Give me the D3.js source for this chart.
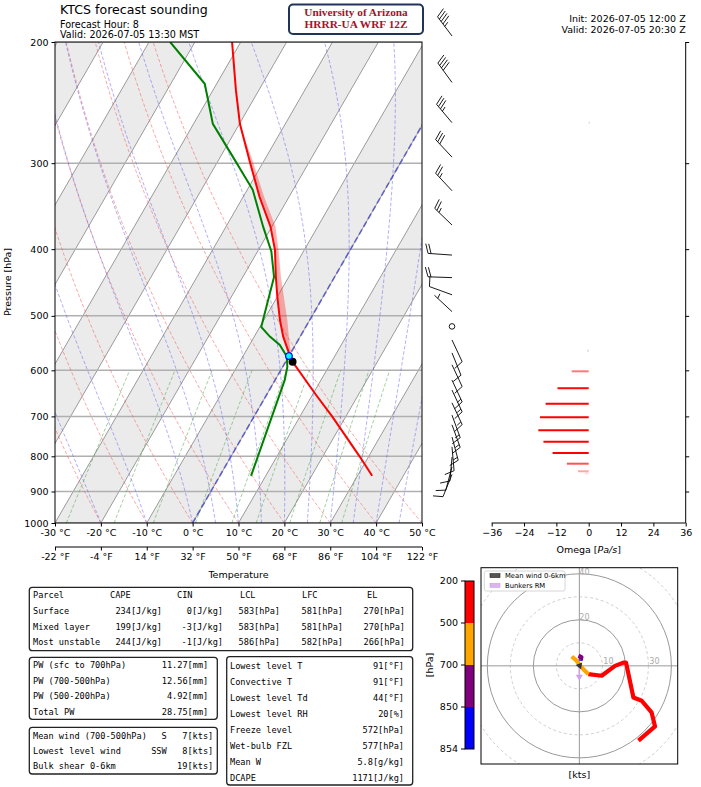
<!DOCTYPE html>
<html>
<head>
<meta charset="utf-8">
<script src="https://cdn.jsdelivr.net/npm/d3@7"></script>
<style>
  body { margin: 0; background: #fff; }
  svg { display: block; }
  text { font-family: "DejaVu Sans", sans-serif; }
</style>
</head>
<body>
<svg id="chart" width="701" height="787"></svg>
<script>

// ---- sounding values ----
const envP = [ 854, 800, 700, 650, 583, 567, 536, 507, 469, 439, 401, 371, 336, 300, 263, 235, 200 ];
const envT = [ 33.2, 28.0, 17.0, 10.6, 1.5, -0.3, -3.7, -6.5, -10.0, -12.8, -16.4, -20.3, -26.4, -32.7, -39.9, -45.0, -51.9 ];

const dewP = [ 854, 620, 593, 573, 551, 536, 519, 474, 439, 403, 371, 328, 294, 263, 230, 200 ];
const dewT = [ 6.8, 2.1, 1.0, -0.4, -3.4, -6.6, -9.7, -11.6, -13.2, -17.0, -21.9, -28.8, -37.2, -45.8, -52.6, -65.4 ];

const parcelP = [ 583, 548, 507, 439, 403, 371, 336, 300, 270 ];
const parcelT = [ 1.5, -1.5, -4.9, -11.7, -15.4, -19.2, -25.4, -32.0, -38.4 ];

const lclP = 583, lclT = 1.5;
const frzP = 572, frzT = 0.0;

const omegaP   = [ 262, 562, 602, 637, 671, 702, 733, 762, 791, 820, 841, 847 ];
const omegaVal = [ 0.4, -0.5, -6.3, -11.6, -16.0, -18.1, -18.7, -16.8, -13.4, -8.1, -4.0, -1.5 ];

const barbP   = [ 196, 229, 262, 294, 329, 369, 408, 440, 466, 493, 518, 542, 566, 589, 620, 641, 669, 697, 720, 750, 775, 802, 829, 850 ];
const barbSpd = [ 45, 40, 35, 30, 25, 25, 20, 20, 10, 5, 0, 10, 10, 10, 15, 15, 15, 15, 15, 15, 10, 10, 10, 8 ];
const barbDir = [ 323, 324, 320, 317, 317, 314, 274, 272, 290, 313, 0, 155, 158, 155, 155, 155, 155, 160, 160, 165, 175, 185, 195, 202 ];

// hodograph (u, v) in kts, per layer
const hodoRed    = [ [3.9,-3.6], [9.7,-4.3], [15.5,0], [19.1,1.4], [20.3,1.4], [23.5,-13.8], [27.1,-15.2], [31.4,-20.3], [32.9,-26.4], [25.7,-32.6] ];
const hodoOrange = [ [-3.3,4.1], [-1.2,2.2], [1.0,-0.7], [3.9,-3.6] ];
const hodoPurple = [ [0.6,2.6], [0.9,3.8], [-0.4,4.4] ];
const hodoBlue   = [ [0.5,2.2], [0.6,2.6] ];
const meanWind   = [ 1.2, 1.5 ];
const bunkersRM  = [ 0, -6.5 ];

// ticks / labels
const pTicks = [ 200, 300, 400, 500, 600, 700, 800, 900, 1000 ];
const cTicks = [ -30, -20, -10, 0, 10, 20, 30, 40, 50 ];
const fTicks = [ -22, -4, 14, 32, 50, 68, 86, 104, 122 ];
const omegaTicks = [ -36, -24, -12, 0, 12, 24, 36 ];
const ringKts = [ 10, 20, 30, 40, 50 ];
const cbLabels = [ "200", "500", "700", "850", "854" ];
const cbColors = [ "red", "orange", "purple", "blue" ];

const parcelHead = [ "Parcel", "CAPE", "CIN", "LCL", "LFC", "EL" ];
const parcelRows = [
	[ "Surface", "234[J/kg]", "0[J/kg]", "583[hPa]", "581[hPa]", "270[hPa]" ],
	[ "Mixed layer", "199[J/kg]", "-3[J/kg]", "583[hPa]", "581[hPa]", "270[hPa]" ],
	[ "Most unstable", "244[J/kg]", "-1[J/kg]", "586[hPa]", "582[hPa]", "266[hPa]" ]
];
const pwRows = [
	[ "PW (sfc to 700hPa)", "11.27[mm]" ],
	[ "PW (700-500hPa)", "12.56[mm]" ],
	[ "PW (500-200hPa)", "4.92[mm]" ],
	[ "Total PW", "28.75[mm]" ]
];
const windRows = [
	[ "Mean wind (700-500hPa)", "S", "7[kts]" ],
	[ "Lowest level wind", "SSW", "8[kts]" ],
	[ "Bulk shear 0-6km", "", "19[kts]" ]
];
const sfcRows = [
	[ "Lowest level T", "91[°F]" ],
	[ "Convective T", "91[°F]" ],
	[ "Lowest level Td", "44[°F]" ],
	[ "Lowest level RH", "20[%]" ],
	[ "Freeze level", "572[hPa]" ],
	[ "Wet-bulb FZL", "577[hPa]" ],
	[ "Mean W", "5.8[g/kg]" ],
	[ "DCAPE", "1171[J/kg]" ]
];

///////////////////////////////////////////////////////////////////////

const svg = d3.select( "#chart" );
const MONO = "'DejaVu Sans Mono', monospace";

const x = d3.scaleLinear().domain( [ -30, 50 ] ).range( [ 55, 422 ] );
const y = d3.scaleLog().domain( [ 1000, 200 ] ).range( [ 523, 42 ] );
const SKEW = 0.577;
const sx = ( T, p ) => x( T ) + ( y( 1000 ) - y( p ) ) * SKEW;

const skewLine = d3.line()
	.x( d => sx( d[ 1 ], d[ 0 ] ) )
	.y( d => y( d[ 0 ] ) );

svg.append( "defs" ).append( "clipPath" ).attr( "id", "skewclip" )
	.append( "rect" ).attr( "x", 55 ).attr( "y", 42 ).attr( "width", 367 ).attr( "height", 481 );

const bg = svg.append( "g" ).attr( "clip-path", "url(#skewclip)" );

// shaded isotherm bands + isotherms
for( let T = -130; T <= 50; T += 10 )	{
	if( ( ( T % 20 ) + 20 ) % 20 === 10 )	{
		bg.append( "path" )
			.attr( "d", skewLine( [ [ 1000, T ], [ 1000, T + 10 ], [ 200, T + 10 ], [ 200, T ] ] ) + "Z" )
			.attr( "fill", "#ebebeb" );
	}
}
for( let T = -130; T <= 50; T += 10 )	{
	bg.append( "path" )
		.attr( "d", skewLine( [ [ 1000, T ], [ 200, T ] ] ) )
		.attr( "stroke", "#9a9a9a" ).attr( "stroke-width", 1 ).attr( "fill", "none" );
}

// isobars
pTicks.forEach( p => {
	bg.append( "line" )
		.attr( "x1", 55 ).attr( "x2", 422 ).attr( "y1", y( p ) ).attr( "y2", y( p ) )
		.attr( "stroke", "#b0b0b0" ).attr( "stroke-width", 1.5 );
} );

const levels = d3.range( 1000, 195, -10 );

// dry adiabats
d3.range( -30, 51, 10 ).forEach( th => {
	const pts = levels.map( p => [ p, ( th + 273.15 ) * Math.pow( p / 1000, 0.2857 ) - 273.15 ] );
	bg.append( "path" ).attr( "d", skewLine( pts ) )
		.attr( "fill", "none" ).attr( "stroke", "#f05050" ).attr( "stroke-opacity", 0.55 )
		.attr( "stroke-width", 0.9 ).attr( "stroke-dasharray", "3.5,2" );
} );

// moist adiabats
function moistLapse( p, T )	{
	const Rd = 287.04, Cp = 1005.7, Lv = 2.501e6, eps = 0.622;
	const Tc = T - 273.15;
	const es = 6.112 * Math.exp( 17.67 * Tc / ( Tc + 243.5 ) );
	const rs = eps * es / ( p - es );
	return ( Rd * T + Lv * rs ) / ( Cp + Lv * Lv * rs * eps / ( Rd * T * T ) ) / p;
}
const moistStarts = [ -30, -20, -10 ].concat( d3.range( 0, 51, 5 ) );
moistStarts.forEach( t0 => {
	let T = t0 + 273.15;
	const pts = [ [ 1000, t0 ] ];
	for( let i = 1; i < levels.length; i++ )	{
		const p = levels[ i - 1 ], h = levels[ i ] - p;
		const k1 = moistLapse( p, T );
		const k2 = moistLapse( p + h / 2, T + h * k1 / 2 );
		const k3 = moistLapse( p + h / 2, T + h * k2 / 2 );
		const k4 = moistLapse( p + h, T + h * k3 );
		T += h * ( k1 + 2 * k2 + 2 * k3 + k4 ) / 6;
		pts.push( [ levels[ i ], T - 273.15 ] );
	}
	bg.append( "path" ).attr( "d", skewLine( pts ) )
		.attr( "fill", "none" ).attr( "stroke", "#5050f0" ).attr( "stroke-opacity", 0.5 )
		.attr( "stroke-width", 0.9 ).attr( "stroke-dasharray", "3.5,2" );
} );

// mixing ratio lines
[ 0.0004, 0.001, 0.002, 0.004, 0.007, 0.01, 0.016, 0.024, 0.032 ].forEach( w => {
	const pts = d3.range( 1000, 595, -10 ).map( p => {
		const e = p * w / ( 0.622 + w );
		const l = Math.log( e / 6.112 );
		return [ p, 243.5 * l / ( 17.67 - l ) ];
	} );
	bg.append( "path" ).attr( "d", skewLine( pts ) )
		.attr( "fill", "none" ).attr( "stroke", "#40a040" ).attr( "stroke-opacity", 0.55 )
		.attr( "stroke-width", 0.9 ).attr( "stroke-dasharray", "3.5,2" );
} );

// 0 C isotherm
bg.append( "path" ).attr( "d", skewLine( [ [ 1000, 0 ], [ 200, 0 ] ] ) )
	.attr( "stroke", "#3838c8" ).attr( "stroke-opacity", 0.65 ).attr( "stroke-width", 1.7 )
	.attr( "stroke-dasharray", "6,3" ).attr( "fill", "none" );

// CAPE shading
const envPairs = envP.map( ( p, i ) => [ p, envT[ i ] ] );
const parcelPairs = parcelP.map( ( p, i ) => [ p, parcelT[ i ] ] );
const capeEnv = envPairs.filter( d => d[ 0 ] < 583 && d[ 0 ] > 270 ).reverse();
bg.append( "path" ).attr( "d", skewLine( parcelPairs.concat( capeEnv ) ) + "Z" )
	.attr( "fill", "red" ).attr( "fill-opacity", 0.3 );

// profiles
bg.append( "path" ).attr( "d", skewLine( envPairs ) )
	.attr( "fill", "none" ).attr( "stroke", "red" ).attr( "stroke-width", 2 );
bg.append( "path" ).attr( "d", skewLine( dewP.map( ( p, i ) => [ p, dewT[ i ] ] ) ) )
	.attr( "fill", "none" ).attr( "stroke", "green" ).attr( "stroke-width", 2 );

bg.append( "circle" ).attr( "cx", sx( lclT, lclP ) ).attr( "cy", y( lclP ) ).attr( "r", 4 ).attr( "fill", "black" );
bg.append( "circle" ).attr( "cx", sx( frzT, frzP ) ).attr( "cy", y( frzP ) ).attr( "r", 3.3 )
	.attr( "fill", "cyan" ).attr( "stroke", "blue" ).attr( "stroke-width", 1.2 );

// frame and axes
svg.append( "rect" ).attr( "x", 55 ).attr( "y", 42 ).attr( "width", 367 ).attr( "height", 481 )
	.attr( "fill", "none" ).attr( "stroke", "black" ).attr( "stroke-width", 1 );

function styleAxis( g, size )	{
	g.attr( "font-family", "DejaVu Sans" ).attr( "font-size", size );
	g.selectAll( ".domain" ).remove();
	g.selectAll( ".tick line" ).attr( "stroke", "black" );
	g.selectAll( ".tick text" ).attr( "fill", "black" );
}

styleAxis( svg.append( "g" ).attr( "transform", "translate(55,0)" )
	.call( d3.axisLeft( y ).tickValues( pTicks ).tickFormat( d3.format( "d" ) ).tickSize( 3.5 ).tickPadding( 3 ) ), 9.5 );

styleAxis( svg.append( "g" ).attr( "transform", "translate(0,523)" )
	.call( d3.axisBottom( x ).tickValues( cTicks ).tickFormat( d => d + " °C" ).tickSize( 3.5 ).tickPadding( 3 ) ), 9.5 );

const xF = d3.scaleLinear().domain( [ -22, 122 ] ).range( [ 55, 422 ] );
svg.append( "line" ).attr( "x1", 55 ).attr( "x2", 422 ).attr( "y1", 547 ).attr( "y2", 547 ).attr( "stroke", "black" );
styleAxis( svg.append( "g" ).attr( "transform", "translate(0,547)" )
	.call( d3.axisBottom( xF ).tickValues( fTicks ).tickFormat( d => d + " °F" ).tickSize( 3.5 ).tickPadding( 3 ) ), 9.5 );

svg.append( "text" ).attr( "x", 238.5 ).attr( "y", 578 ).attr( "text-anchor", "middle" )
	.attr( "font-size", 9.5 ).text( "Temperature" );
svg.append( "text" ).attr( "transform", "translate(11,282) rotate(-90)" ).attr( "text-anchor", "middle" )
	.attr( "font-size", 9.5 ).text( "Pressure [hPa]" );

// ---- omega panel ----
const ox = d3.scaleLinear().domain( [ -36, 36 ] ).range( [ 491.7, 685.7 ] );
omegaP.forEach( ( p, i ) => {
	const v = omegaVal[ i ];
	const a = Math.max( 0.12, Math.min( 1, Math.abs( v ) / 12 ) );
	svg.append( "line" )
		.attr( "x1", ox( 0 ) ).attr( "x2", ox( v ) ).attr( "y1", y( p ) ).attr( "y2", y( p ) )
		.attr( "stroke", Math.abs( v ) < 1 ? "#c8c8c8" : "red" )
		.attr( "stroke-opacity", Math.abs( v ) < 1 ? 0.8 : a ).attr( "stroke-width", 2 );
} );
svg.append( "line" ).attr( "x1", 491.7 ).attr( "x2", 685.7 ).attr( "y1", 523 ).attr( "y2", 523 ).attr( "stroke", "black" );
svg.append( "line" ).attr( "x1", 685.7 ).attr( "x2", 685.7 ).attr( "y1", 42 ).attr( "y2", 523 ).attr( "stroke", "black" );
styleAxis( svg.append( "g" ).attr( "transform", "translate(0,523)" )
	.call( d3.axisBottom( ox ).tickValues( omegaTicks ).tickSize( 3.5 ).tickPadding( 3 ) ), 9.5 );
styleAxis( svg.append( "g" ).attr( "transform", "translate(685.7,0)" )
	.call( d3.axisRight( y ).tickValues( pTicks.slice( 0, 8 ) ).tickFormat( "" ).tickSize( 3.5 ) ), 9.5 );
const omLab = svg.append( "text" ).attr( "x", 588.7 ).attr( "y", 553 ).attr( "text-anchor", "middle" ).attr( "font-size", 9.5 );
omLab.append( "tspan" ).text( "Omega [" );
omLab.append( "tspan" ).attr( "font-style", "italic" ).text( "Pa/s" );
omLab.append( "tspan" ).text( "]" );

// ---- wind barbs ----
function drawBarb( g, bx, by, spd, dir )	{
	const L = 24;
	if( spd < 2.5 )	{
		g.append( "circle" ).attr( "cx", bx ).attr( "cy", by ).attr( "r", 2.8 )
			.attr( "fill", "none" ).attr( "stroke", "black" ).attr( "stroke-width", 0.9 );
		return;
	}
	const r = Math.round( spd / 5 ) * 5;
	const flags = Math.floor( r / 50 );
	const full = Math.floor( ( r - flags * 50 ) / 10 );
	const half = ( r - flags * 50 - full * 10 ) >= 5;
	const a = dir * Math.PI / 180;
	const d = [ Math.sin( a ), -Math.cos( a ) ];
	const n = [ Math.cos( a ), Math.sin( a ) ];
	const h = 0.4 * L, w = 0.25 * L, sp = 0.125 * L;
	const pt = ( off, out ) => [ bx + d[ 0 ] * off + n[ 0 ] * out, by + d[ 1 ] * off + n[ 1 ] * out ];
	let path = "M" + pt( 0, 0 ) + "L" + pt( L, 0 );
	let off = L;
	for( let i = 0; i < flags; i++ )	{
		if( off !== L ) off += sp / 2;
		g.append( "path" ).attr( "d", "M" + pt( off, 0 ) + "L" + pt( off - w / 2, h ) + "L" + pt( off - w, 0 ) + "Z" )
			.attr( "fill", "black" );
		off -= w + sp;
	}
	for( let i = 0; i < full; i++ )	{
		path += "M" + pt( off, 0 ) + "L" + pt( off + w / 2, h );
		off -= sp;
	}
	if( half )	{
		if( off === L ) off -= 1.5 * sp;
		path += "M" + pt( off, 0 ) + "L" + pt( off + w / 4, h / 2 );
	}
	g.append( "path" ).attr( "d", path ).attr( "fill", "none" )
		.attr( "stroke", "black" ).attr( "stroke-width", 0.9 );
}
const barbG = svg.append( "g" );
barbP.forEach( ( p, i ) => drawBarb( barbG, 452, y( p ), barbSpd[ i ], barbDir[ i ] ) );

// ---- header texts ----
svg.append( "text" ).attr( "x", 60 ).attr( "y", 14 ).attr( "font-size", 12.6 ).text( "KTCS forecast sounding" );
svg.append( "text" ).attr( "x", 60 ).attr( "y", 27.6 ).attr( "font-size", 9.6 ).text( "Forecast Hour: 8" );
svg.append( "text" ).attr( "x", 60 ).attr( "y", 38.3 ).attr( "font-size", 9.6 ).text( "Valid: 2026-07-05 13:30 MST" );

svg.append( "rect" ).attr( "x", 289 ).attr( "y", 4.5 ).attr( "width", 134 ).attr( "height", 29.5 ).attr( "rx", 4 )
	.attr( "fill", "white" ).attr( "stroke", "#1f3458" ).attr( "stroke-width", 2 );
svg.append( "text" ).attr( "x", 356 ).attr( "y", 16.3 ).attr( "text-anchor", "middle" )
	.attr( "font-weight", "bold" ).attr( "font-size", 11.3 )
	.attr( "fill", "#a6122d" ).style( "font-family", "'Liberation Serif', serif" ).text( "University of Arizona" );
svg.append( "text" ).attr( "x", 356 ).attr( "y", 28 ).attr( "text-anchor", "middle" )
	.attr( "font-weight", "bold" ).attr( "font-size", 11.3 )
	.attr( "fill", "#a6122d" ).style( "font-family", "'Liberation Serif', serif" ).text( "HRRR-UA WRF 12Z" );

svg.append( "text" ).attr( "x", 685.7 ).attr( "y", 22 ).attr( "text-anchor", "end" ).attr( "font-size", 9.5 )
	.text( "Init: 2026-07-05 12:00 Z" );
svg.append( "text" ).attr( "x", 685.7 ).attr( "y", 33 ).attr( "text-anchor", "end" ).attr( "font-size", 9.5 )
	.text( "Valid: 2026-07-05 20:30 Z" );

// ---- tables ----
function box( x0, y0, w, h )	{
	svg.append( "rect" ).attr( "x", x0 ).attr( "y", y0 ).attr( "width", w ).attr( "height", h ).attr( "rx", 3 )
		.attr( "fill", "white" ).attr( "stroke", "#222" ).attr( "stroke-width", 1.3 );
}
function mono( x0, y0, s, anchor )	{
	svg.append( "text" ).attr( "x", x0 ).attr( "y", y0 ).attr( "text-anchor", anchor || "start" )
		.attr( "font-size", 8.6 ).style( "font-family", MONO ).text( s );
}

box( 29.3, 587.3, 383.4, 63.4 );
const headX = [ 33, 110, 177, 240, 302, 367 ];
parcelHead.forEach( ( s, i ) => mono( headX[ i ], 598, s ) );
const colR = [ 162, 223, 280, 343, 405 ];
parcelRows.forEach( ( row, r ) => {
	const yy = 614 + r * 15.7;
	mono( 33, yy, row[ 0 ] );
	row.slice( 1 ).forEach( ( s, i ) => mono( colR[ i ], yy, s, "end" ) );
} );

box( 29.3, 657.3, 188, 62 );
pwRows.forEach( ( row, r ) => {
	const yy = 668 + r * 15.6;
	mono( 33, yy, row[ 0 ] );
	mono( 208.3, yy, row[ 1 ], "end" );
} );

box( 29.3, 727.3, 188, 46.7 );
windRows.forEach( ( row, r ) => {
	const yy = 738.7 + r * 15.2;
	mono( 33, yy, row[ 0 ] );
	mono( 166.7, yy, row[ 1 ], "end" );
	mono( 213.3, yy, row[ 2 ], "end" );
} );

box( 226.7, 656.7, 186, 128.3 );
sfcRows.forEach( ( row, r ) => {
	const yy = 668.7 + r * 16;
	mono( 230, yy, row[ 0 ] );
	mono( 404, yy, row[ 1 ], "end" );
} );

// ---- hodograph ----
const hx = d3.scaleLinear().domain( [ -42.75, 42.75 ] ).range( [ 481, 677.7 ] );
const hy = d3.scaleLinear().domain( [ -42.75, 42.75 ] ).range( [ 764, 567.7 ] );
svg.select( "defs" ).append( "clipPath" ).attr( "id", "hodoclip" )
	.append( "rect" ).attr( "x", 481 ).attr( "y", 567.7 ).attr( "width", 196.7 ).attr( "height", 196.3 );
const hg = svg.append( "g" ).attr( "clip-path", "url(#hodoclip)" );
const hcx = hx( 0 ), hcy = hy( 0 );
ringKts.forEach( k => {
	hg.append( "circle" ).attr( "cx", hcx ).attr( "cy", hcy ).attr( "r", hx( k ) - hcx )
		.attr( "fill", "none" ).attr( "stroke", "#999" )
		.attr( "stroke-width", k % 20 === 0 ? 1 : 0.8 )
		.attr( "stroke-dasharray", k % 20 === 0 ? null : "3,2.5" )
		.attr( "stroke-opacity", k % 20 === 0 ? 1 : 0.6 );
} );
hg.append( "line" ).attr( "x1", 481 ).attr( "x2", 677.7 ).attr( "y1", hcy ).attr( "y2", hcy ).attr( "stroke", "#999" );
hg.append( "line" ).attr( "x1", hcx ).attr( "x2", hcx ).attr( "y1", 567.7 ).attr( "y2", 764 ).attr( "stroke", "#999" );
[ 10, 30 ].forEach( k => hg.append( "text" ).attr( "x", hx( k ) + 1 ).attr( "y", hcy - 1.5 )
	.attr( "font-size", 8 ).attr( "fill", "#aaa" ).text( k ) );
[ 20, 40 ].forEach( k => hg.append( "text" ).attr( "x", hcx ).attr( "y", hy( k ) + 0.5 )
	.attr( "font-size", 8 ).attr( "fill", "#aaa" ).text( k ) );

const hline = d3.line().x( d => hx( d[ 0 ] ) ).y( d => hy( d[ 1 ] ) );
[ [ hodoBlue, "blue" ], [ hodoPurple, "purple" ], [ hodoRed, "red" ], [ hodoOrange, "orange" ] ].forEach( ( [ pts, c ] ) => {
	hg.append( "path" ).attr( "d", hline( pts ) ).attr( "fill", "none" ).attr( "stroke", c )
		.attr( "stroke-width", 4.2 ).attr( "stroke-linejoin", "round" );
} );

function arrow( uv, color )	{
	const x1 = hcx, y1 = hcy, x2 = hx( uv[ 0 ] ), y2 = hy( uv[ 1 ] );
	const ang = Math.atan2( y2 - y1, x2 - x1 );
	const hl = 6, hw = 3.5;
	const bx = x2 - hl * Math.cos( ang ), by = y2 - hl * Math.sin( ang );
	hg.append( "line" ).attr( "x1", x1 ).attr( "y1", y1 ).attr( "x2", bx ).attr( "y2", by )
		.attr( "stroke", color ).attr( "stroke-width", 1.5 );
	hg.append( "path" )
		.attr( "d", "M" + [ x2, y2 ] + "L" + [ bx - hw * Math.sin( ang ), by + hw * Math.cos( ang ) ]
			+ "L" + [ bx + hw * Math.sin( ang ), by - hw * Math.cos( ang ) ] + "Z" )
		.attr( "fill", color );
}
arrow( bunkersRM, "#cfa2ea" );
arrow( meanWind, "#333" );

svg.append( "rect" ).attr( "x", 481 ).attr( "y", 567.7 ).attr( "width", 196.7 ).attr( "height", 196.3 )
	.attr( "fill", "none" ).attr( "stroke", "black" ).attr( "stroke-width", 1 );

// legend
svg.append( "rect" ).attr( "x", 484.3 ).attr( "y", 571 ).attr( "width", 80.7 ).attr( "height", 20 ).attr( "rx", 2 )
	.attr( "fill", "white" ).attr( "fill-opacity", 0.85 ).attr( "stroke", "#ccc" ).attr( "stroke-width", 0.8 );
svg.append( "rect" ).attr( "x", 490 ).attr( "y", 573.6 ).attr( "width", 10 ).attr( "height", 4 )
	.attr( "fill", "#555" ).attr( "stroke", "#222" ).attr( "stroke-width", 0.6 );
svg.append( "rect" ).attr( "x", 490 ).attr( "y", 583.4 ).attr( "width", 10 ).attr( "height", 4 )
	.attr( "fill", "#dcb4f0" ).attr( "stroke", "#c9a0e6" ).attr( "stroke-width", 0.6 );
svg.append( "text" ).attr( "x", 505 ).attr( "y", 578.3 ).attr( "font-size", 6.8 ).text( "Mean wind 0-6km" );
svg.append( "text" ).attr( "x", 505 ).attr( "y", 588 ).attr( "font-size", 6.8 ).text( "Bunkers RM" );

svg.append( "text" ).attr( "x", 579.3 ).attr( "y", 777.5 ).attr( "text-anchor", "middle" ).attr( "font-size", 9.5 ).text( "[kts]" );

// colorbar
const cb = d3.scaleLinear().domain( [ 0, 4 ] ).range( [ 581, 749 ] );
cbColors.forEach( ( c, i ) => {
	svg.append( "rect" ).attr( "x", 465 ).attr( "y", cb( i ) ).attr( "width", 9 ).attr( "height", cb( i + 1 ) - cb( i ) ).attr( "fill", c );
} );
svg.append( "rect" ).attr( "x", 465 ).attr( "y", 581 ).attr( "width", 9 ).attr( "height", 168 )
	.attr( "fill", "none" ).attr( "stroke", "black" ).attr( "stroke-width", 1 );
cbLabels.forEach( ( s, i ) => {
	svg.append( "line" ).attr( "x1", 461 ).attr( "x2", 465 ).attr( "y1", cb( i ) ).attr( "y2", cb( i ) ).attr( "stroke", "black" );
	svg.append( "text" ).attr( "x", 458 ).attr( "y", cb( i ) + 3.4 ).attr( "text-anchor", "end" ).attr( "font-size", 9.5 ).text( s );
} );
svg.append( "text" ).attr( "transform", "translate(433,665) rotate(-90)" ).attr( "text-anchor", "middle" )
	.attr( "font-size", 9.5 ).text( "[hPa]" );

</script>
</body>
</html>
